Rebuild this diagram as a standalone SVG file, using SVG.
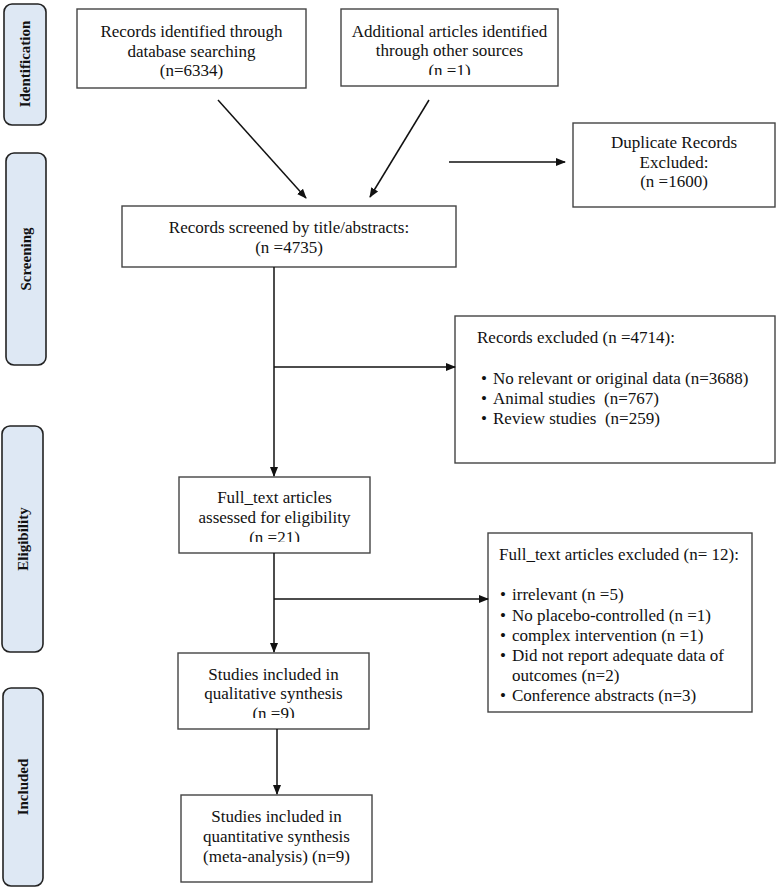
<svg xmlns="http://www.w3.org/2000/svg" width="777" height="890" viewBox="0 0 777 890">
<style>
.bg{fill:#ffffff}
.side{fill:#dee8f4;stroke:#222;stroke-width:1.6}
.stxt{font-family:"Liberation Serif","Times New Roman",serif;font-weight:bold;font-size:15px;fill:#111;text-anchor:middle}
.box{fill:#fff;stroke:#444;stroke-width:1.4}
.t{font-family:"Liberation Serif","Times New Roman",serif;font-size:17px;fill:#111}
.c{text-anchor:middle}
.ln{stroke:#111;stroke-width:1.5;fill:none}
</style>
<defs>
<marker id="ah" markerWidth="10" markerHeight="10" refX="9" refY="5" orient="auto" markerUnits="userSpaceOnUse">
<path d="M0,1 L10,5 L0,9 Z" fill="#111"/>
</marker>
<clipPath id="clip2"><rect x="341" y="9" width="217" height="66"/></clipPath>
<clipPath id="clipF"><rect x="179" y="477" width="191" height="65"/></clipPath>
<clipPath id="clipQ"><rect x="178" y="653" width="191" height="65"/></clipPath>
</defs>
<rect class="bg" x="0" y="0" width="777" height="890"/>

<g id="stage-identification">
<rect class="side" x="4" y="4" width="42" height="121" rx="8"/>
<text class="stxt" transform="translate(30,64) rotate(-90)">Identification</text>
</g>
<g id="stage-screening">
<rect class="side" x="6" y="153" width="40" height="212" rx="8"/>
<text class="stxt" transform="translate(31,259) rotate(-90)">Screening</text>
</g>
<g id="stage-eligibility">
<rect class="side" x="2" y="426" width="41" height="226" rx="8"/>
<text class="stxt" transform="translate(28,539) rotate(-90)">Eligibility</text>
</g>
<g id="stage-included">
<rect class="side" x="3" y="688" width="40" height="198" rx="8"/>
<text class="stxt" transform="translate(28,787) rotate(-90)">Included</text>
</g>

<g id="n-db">
<rect class="box" x="77" y="9" width="229" height="79"/>
<text class="t c" x="191.5" y="37">Records identified through</text>
<text class="t c" x="191.5" y="57">database searching</text>
<text class="t c" x="191.5" y="76">(n=6334)</text>
</g>
<g id="n-other">
<rect class="box" x="341" y="9" width="217" height="77"/>
<g clip-path="url(#clip2)">
<text class="t c" x="449.5" y="37">Additional articles identified</text>
<text class="t c" x="449.5" y="56">through other sources</text>
<text class="t c" x="449.5" y="76">(n =1)</text>
</g>
</g>
<g id="n-dup">
<rect class="box" x="573" y="123" width="202" height="84"/>
<text class="t c" x="674" y="148">Duplicate Records</text>
<text class="t c" x="674" y="168">Excluded:</text>
<text class="t c" x="674" y="187">(n =1600)</text>
</g>
<g id="n-screen">
<rect class="box" x="122" y="206" width="334" height="61"/>
<text class="t c" x="289" y="233">Records screened by title/abstracts:</text>
<text class="t c" x="289" y="253">(n =4735)</text>
</g>
<g id="n-recex">
<rect class="box" x="455" y="316" width="320" height="147"/>
<text class="t" x="477" y="343">Records excluded (n =4714):</text>
<text class="t" x="481" y="384">•</text><text class="t" x="493" y="384">No relevant or original data (n=3688)</text>
<text class="t" x="481" y="404">•</text><text class="t" x="493" y="404" xml:space="preserve">Animal studies  (n=767)</text>
<text class="t" x="481" y="424">•</text><text class="t" x="493" y="424" xml:space="preserve">Review studies  (n=259)</text>
</g>
<g id="n-full">
<rect class="box" x="179" y="477" width="191" height="76"/>
<g clip-path="url(#clipF)">
<text class="t c" x="274.5" y="503">Full_text articles</text>
<text class="t c" x="274.5" y="523">assessed for eligibility</text>
<text class="t c" x="274.5" y="543">(n =21)</text>
</g>
</g>
<g id="n-fullex">
<rect class="box" x="488" y="533" width="264" height="179"/>
<text class="t" x="499" y="560">Full_text articles excluded (n= 12):</text>
<text class="t" x="500" y="600">•</text><text class="t" x="512" y="600">irrelevant (n =5)</text>
<text class="t" x="500" y="621">•</text><text class="t" x="512" y="621">No placebo-controlled (n =1)</text>
<text class="t" x="500" y="641">•</text><text class="t" x="512" y="641">complex intervention (n =1)</text>
<text class="t" x="500" y="661">•</text><text class="t" x="512" y="661">Did not report adequate data of</text>
<text class="t" x="512" y="681">outcomes (n=2)</text>
<text class="t" x="500" y="701">•</text><text class="t" x="512" y="701">Conference abstracts (n=3)</text>
</g>
<g id="n-qual">
<rect class="box" x="178" y="653" width="191" height="76"/>
<g clip-path="url(#clipQ)">
<text class="t c" x="273.5" y="680">Studies included in</text>
<text class="t c" x="273.5" y="699">qualitative synthesis</text>
<text class="t c" x="273.5" y="719">(n =9)</text>
</g>
</g>
<g id="n-quant">
<rect class="box" x="181" y="795" width="191" height="87"/>
<text class="t c" x="276.5" y="822">Studies included in</text>
<text class="t c" x="276.5" y="842">quantitative synthesis</text>
<text class="t c" x="276.5" y="862">(meta-analysis) (n=9)</text>
</g>

<g id="connectors">
<line class="ln" x1="218" y1="100" x2="306" y2="198" marker-end="url(#ah)"/>
<line class="ln" x1="429" y1="100" x2="370" y2="197" marker-end="url(#ah)"/>
<line class="ln" x1="449" y1="162" x2="565" y2="162" marker-end="url(#ah)"/>
<line class="ln" x1="274" y1="267" x2="274" y2="476" marker-end="url(#ah)"/>
<line class="ln" x1="274" y1="367" x2="455" y2="367" marker-end="url(#ah)"/>
<line class="ln" x1="274" y1="553" x2="274" y2="652" marker-end="url(#ah)"/>
<line class="ln" x1="274" y1="599" x2="488" y2="599" marker-end="url(#ah)"/>
<line class="ln" x1="277" y1="729" x2="277" y2="794" marker-end="url(#ah)"/>
</g>
</svg>
